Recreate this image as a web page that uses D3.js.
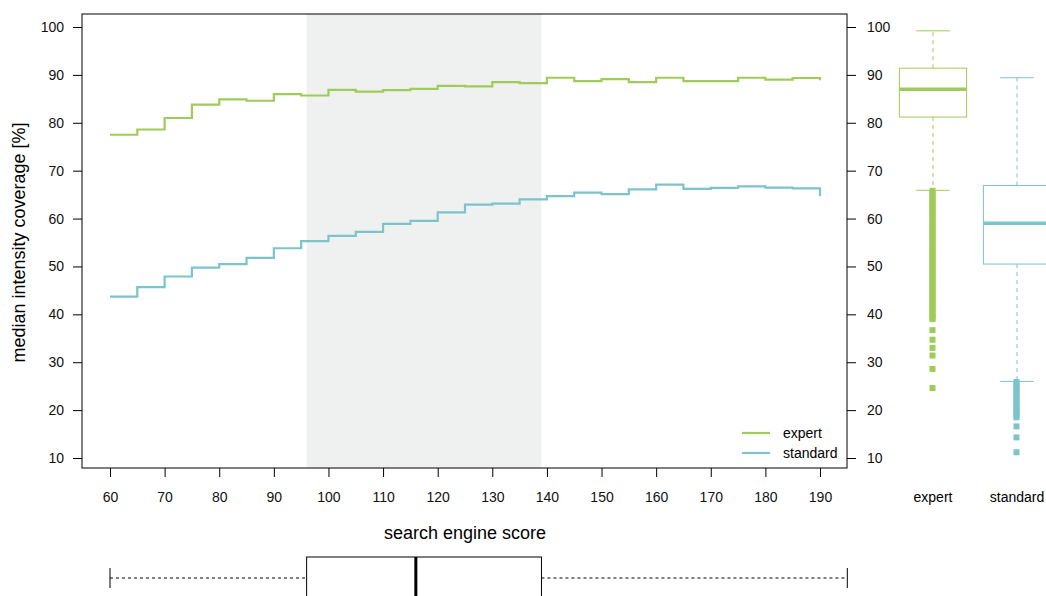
<!DOCTYPE html>
<html>
<head>
<meta charset="utf-8">
<script src="https://cdn.jsdelivr.net/npm/d3@7"></script>
<style>
  body { margin: 0; background: #fff; }
  svg { font-family: "Liberation Sans", Arial, sans-serif; }
</style>
</head>
<body>
<svg width="1046" height="596"></svg>
<script>
// search engine score bins (left edges), last point closes the step
let scores = [60, 65, 70, 75, 80, 85, 90, 95, 100, 105, 110, 115, 120, 125, 130,
  135, 140, 145, 150, 155, 160, 165, 170, 175, 180, 185, 190];
let expert = [77.5, 78.6, 81.0, 83.8, 84.9, 84.6, 86.0, 85.7, 86.85, 86.5, 86.8,
  87.1, 87.7, 87.6, 88.5, 88.3, 89.4, 88.7, 89.1, 88.5, 89.4, 88.7, 88.7, 89.4,
  89.0, 89.35, 88.9];
let standard = [43.7, 45.7, 47.9, 49.75, 50.5, 51.8, 53.8, 55.3, 56.4, 57.2, 58.9,
  59.5, 61.3, 62.9, 63.1, 64.0, 64.7, 65.4, 65.1, 66.1, 67.1, 66.2, 66.4, 66.7,
  66.45, 66.3, 64.7];
let xTicks = [60, 70, 80, 90, 100, 110, 120, 130, 140, 150, 160, 170, 180, 190];
let yTicks = [10, 20, 30, 40, 50, 60, 70, 80, 90, 100];

// score distribution (bottom box): min, q1, median, q3, max
let scoreStats = [60, 96, 116, 139, 195];

// coverage distributions: lower whisker, q1, median, q3, upper whisker
let groups = ['expert', 'standard'];
let coverageStats = [
  [65.9, 81.2, 87.0, 91.4, 99.2],
  [26.0, 50.5, 59.0, 66.9, 89.4]
];
let expertOutliers = [65.8, 65.3, 64.8, 64.3, 63.8, 63.3, 62.8, 62.3, 61.8, 61.3,
  60.8, 60.3, 59.8, 59.3, 58.8, 58.3, 57.8, 57.3, 56.8, 56.3, 55.8, 55.3, 54.8,
  54.3, 53.8, 53.3, 52.8, 52.3, 51.8, 51.3, 50.8, 50.3, 49.8, 49.3, 48.8, 48.3,
  47.8, 47.3, 46.8, 46.3, 45.8, 45.3, 44.8, 44.3, 43.8, 43.3, 42.8, 42.3, 41.8,
  41.3, 40.8, 40.3, 39.8, 39.3, 39.0, 36.7, 34.7, 33.0, 31.4, 28.6, 24.6];
let standardOutliers = [25.9, 25.4, 24.9, 24.4, 23.9, 23.4, 22.9, 22.4, 21.9, 21.4,
  20.9, 20.4, 19.9, 19.4, 18.9, 18.5, 16.6, 14.3, 11.2];
let outliers = [expertOutliers, standardOutliers];

let colors = ['#9fcb58', '#7cc4cc'];

let svg = d3.select('svg');

let x = d3.scaleLinear().domain([60, 190]).range([110, 820]);
let y = d3.scaleLinear().domain([10, 100]).range([458, 27]);
let plotLeft = 82, plotRight = 847, plotTop = 14, plotBottom = 468;

// shaded interquartile range of the scores
svg.append('rect')
  .attr('x', x(scoreStats[1]))
  .attr('y', plotTop)
  .attr('width', x(scoreStats[3]) - x(scoreStats[1]))
  .attr('height', plotBottom - plotTop)
  .attr('fill', '#eff1f0');

let line = d3.line()
  .curve(d3.curveStepAfter)
  .x(function(d, i) { return x(scores[i]); })
  .y(function(d) { return y(d); });

[expert, standard].forEach(function(series, i) {
  svg.append('path')
    .attr('d', line(series))
    .attr('fill', 'none')
    .attr('stroke', colors[i])
    .attr('stroke-width', 2.2);
});

// frame
svg.append('rect')
  .attr('x', plotLeft)
  .attr('y', plotTop)
  .attr('width', plotRight - plotLeft)
  .attr('height', plotBottom - plotTop)
  .attr('fill', 'none')
  .attr('stroke', '#000')
  .attr('stroke-width', 1);

// axes
let xAxis = svg.append('g')
  .attr('transform', 'translate(0,' + plotBottom + ')')
  .call(d3.axisBottom(x).tickValues(xTicks).tickSize(9).tickPadding(15));
let yAxis = svg.append('g')
  .attr('transform', 'translate(' + plotLeft + ',0)')
  .call(d3.axisLeft(y).tickValues(yTicks).tickSize(9).tickPadding(9));
let yAxisRight = svg.append('g')
  .attr('transform', 'translate(' + plotRight + ',0)')
  .call(d3.axisRight(y).tickValues(yTicks).tickSize(9).tickPadding(11));

[xAxis, yAxis, yAxisRight].forEach(function(g) {
  g.select('.domain').remove();
  g.selectAll('text').attr('font-size', 14).attr('fill', '#111')
    .attr('font-family', '"Liberation Sans", Arial, sans-serif');
  g.selectAll('line').attr('stroke', '#000');
});

// axis titles
svg.append('text')
  .attr('x', 465)
  .attr('y', 539)
  .attr('text-anchor', 'middle')
  .attr('font-size', 18)
  .text('search engine score');

svg.append('text')
  .attr('transform', 'translate(25,' + y(55) + ') rotate(-90)')
  .attr('text-anchor', 'middle')
  .attr('font-size', 18)
  .text('median intensity coverage [%]');

// legend
let legend = svg.append('g');
groups.forEach(function(name, i) {
  let ly = 433 + i * 20;
  legend.append('line')
    .attr('x1', 742).attr('x2', 770)
    .attr('y1', ly).attr('y2', ly)
    .attr('stroke', colors[i])
    .attr('stroke-width', 2.2);
  legend.append('text')
    .attr('x', 783).attr('y', ly + 5)
    .attr('font-size', 14)
    .text(name);
});

// coverage boxplots on the right
let bx = d3.scaleBand().domain(groups).range([891, 1059]).paddingInner(0.2).paddingOuter(0.1);

groups.forEach(function(name, i) {
  let s = coverageStats[i];
  let cx = bx(name) + bx.bandwidth() / 2;
  let half = bx.bandwidth() / 2;
  let g = svg.append('g').attr('stroke', colors[i]).attr('fill', 'none');

  g.append('line')
    .attr('x1', cx).attr('x2', cx)
    .attr('y1', y(s[3])).attr('y2', y(s[4]))
    .attr('stroke-dasharray', '4,4');
  g.append('line')
    .attr('x1', cx).attr('x2', cx)
    .attr('y1', y(s[1])).attr('y2', y(s[0]))
    .attr('stroke-dasharray', '4,4');
  [s[0], s[4]].forEach(function(v) {
    g.append('line')
      .attr('x1', cx - half / 2).attr('x2', cx + half / 2)
      .attr('y1', y(v)).attr('y2', y(v));
  });
  g.append('rect')
    .attr('x', bx(name))
    .attr('y', y(s[3]))
    .attr('width', bx.bandwidth())
    .attr('height', y(s[1]) - y(s[3]))
    .attr('fill', '#fff');
  g.append('line')
    .attr('x1', bx(name)).attr('x2', bx(name) + bx.bandwidth())
    .attr('y1', y(s[2])).attr('y2', y(s[2]))
    .attr('stroke-width', 3.5);

  svg.append('g')
    .selectAll('rect')
    .data(outliers[i])
    .enter().append('rect')
    .attr('x', cx - 3.5)
    .attr('y', function(d) { return y(d) - 3; })
    .attr('width', 6)
    .attr('height', 6)
    .attr('fill', colors[i]);

  svg.append('text')
    .attr('x', cx)
    .attr('y', 502)
    .attr('text-anchor', 'middle')
    .attr('font-size', 14)
    .text(name);
});

// score boxplot at the bottom
let by = 578;
let bottom = svg.append('g').attr('stroke', '#000').attr('fill', 'none');
bottom.append('line')
  .attr('x1', x(scoreStats[0])).attr('x2', x(scoreStats[1]))
  .attr('y1', by).attr('y2', by)
  .attr('stroke-dasharray', '3,3');
bottom.append('line')
  .attr('x1', x(scoreStats[3])).attr('x2', x(scoreStats[4]))
  .attr('y1', by).attr('y2', by)
  .attr('stroke-dasharray', '3,3');
[scoreStats[0], scoreStats[4]].forEach(function(v) {
  bottom.append('line')
    .attr('x1', x(v)).attr('x2', x(v))
    .attr('y1', by - 10).attr('y2', by + 10);
});
bottom.append('rect')
  .attr('x', x(scoreStats[1]))
  .attr('y', by - 21)
  .attr('width', x(scoreStats[3]) - x(scoreStats[1]))
  .attr('height', 42);
bottom.append('line')
  .attr('x1', x(scoreStats[2])).attr('x2', x(scoreStats[2]))
  .attr('y1', by - 21).attr('y2', by + 21)
  .attr('stroke-width', 3);
</script>
</body>
</html>
